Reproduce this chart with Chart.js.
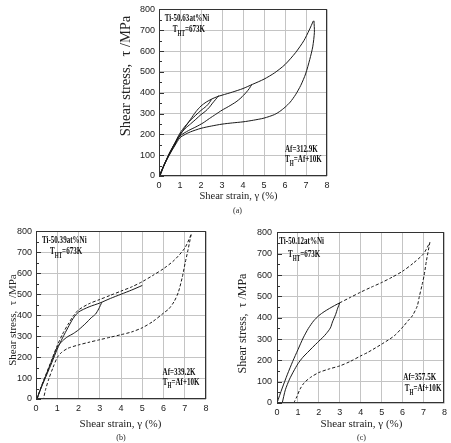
<!DOCTYPE html>
<html>
<head>
<meta charset="UTF-8">
<script src="https://cdn.jsdelivr.net/npm/chart.js"></script>
<style>
  body { margin: 0; background: #fff; }
  #wrap { position: relative; width: 451px; height: 443px; }
  canvas { position: absolute; }
</style>
</head>
<body>
<div id="wrap">
  <canvas id="chartA" width="225" height="220" style="left:110px;top:0px"></canvas>
  <canvas id="chartB" width="225" height="221" style="left:0px;top:222px"></canvas>
  <canvas id="chartC" width="225" height="221" style="left:226px;top:222px"></canvas>
</div>
<script>
// ejes comunes
const strainTicks = [0, 1, 2, 3, 4, 5, 6, 7, 8];
const stressTicks = [0, 100, 200, 300, 400, 500, 600, 700, 800];

// (a) Ti-50.63at%Ni  [deformacion %, esfuerzo MPa]
const aLoading = [[0,0],[0.25,55],[0.5,110],[0.75,155],[1,195],[1.25,235],[1.5,272],[1.75,308],[2,336],[2.25,355],[2.5,369],[2.75,380],[3,388],[3.5,403],[4,420],[4.45,440],[5,465],[5.5,495],[6,535],[6.5,592],[6.9,650],[7.15,700],[7.35,745]];
const aLoop1 = [[2.5,368],[2.4,352],[2.25,335],[2,315],[1.75,292],[1.5,268],[1.25,240],[1,206],[0.75,158],[0.5,110],[0.25,56],[0.03,0]];
const aLoop2 = [[2.85,387],[2.7,368],[2.55,350],[2.4,330],[2.2,310],[2,295],[1.75,272],[1.5,250],[1.25,228],[1,200],[0.75,155],[0.5,108],[0.25,55],[0.03,0]];
const aLoop3 = [[4.42,440],[4.3,420],[4.14,400],[3.9,375],[3.67,356],[3.3,333],[3,316],[2.7,296],[2.4,276],[2.1,255],[1.76,236],[1.4,218],[1,192],[0.75,150],[0.5,105],[0.25,54],[0.03,0]];
const aUnload = [[7.38,745],[7.4,690],[7.32,620],[7.18,560],[6.98,490],[6.75,435],[6.5,390],[6.25,355],[6,330],[5.75,310],[5.5,295],[5,278],[4.5,268],[4,260],[3.5,255],[3,249],[2.5,240],[2,229],[1.5,212],[1.25,200],[1,184],[0.75,145],[0.5,102],[0.25,52],[0.05,0]];

// (b) Ti-50.39at%Ni
const bDashLoad = [[0.05,0],[0.25,60],[0.5,125],[0.75,190],[1,255],[1.25,310],[1.5,355],[1.75,395],[2,425],[2.5,455],[3,475],[3.5,495],[4,515],[4.5,535],[5,560],[5.5,590],[6,622],[6.5,662],[7,720],[7.3,785]];
const bDashUnload = [[7.3,785],[7.15,710],[7.02,650],[6.88,580],[6.7,510],[6.5,465],[6.25,430],[6,410],[5.5,370],[5,340],[4.5,320],[4,307],[3.5,295],[3,283],[2.5,271],[2,258],[1.5,242],[1.2,222],[1,198],[0.8,150],[0.6,95],[0.45,45],[0.35,0]];
const bSolidLoad = [[0.03,0],[0.25,55],[0.5,115],[0.75,175],[1,238],[1.25,292],[1.5,340],[1.75,385],[2,415],[2.5,440],[3,458],[3.5,480],[4,500],[4.5,520],[5,542]];
const bSolidUnload = [[3.1,462],[2.95,430],[2.8,405],[2.6,388],[2.35,362],[2,330],[1.75,312],[1.5,298],[1.25,278],[1,248],[0.75,185],[0.5,122],[0.25,58],[0.05,0]];

// (c) Ti-50.12at%Ni
const cSolidLoad = [[0,0],[0.25,70],[0.5,135],[0.75,195],[1,250],[1.25,305],[1.5,350],[1.75,385],[2,410],[2.25,428],[2.5,443],[2.75,457],[3,470]];
const cSolidUnload = [[3,470],[2.9,445],[2.8,415],[2.65,380],[2.55,352],[2.35,325],[2.18,307],[2,290],[1.7,261],[1.45,236],[1.23,214],[1,184],[0.8,150],[0.6,112],[0.4,62],[0.25,0]];
const cDashLoad = [[3,470],[3.5,495],[4,520],[4.5,543],[5,565],[5.5,590],[6,618],[6.5,655],[7,700],[7.3,753]];
const cDashUnload = [[7.3,753],[7.13,663],[7.03,600],[6.93,554],[6.8,500],[6.7,455],[6.46,408],[6.25,385],[6.06,362],[5.6,315],[5,276],[4.33,237],[4,221],[3.5,195],[3,174],[2.5,160],[2,143],[1.6,120],[1.3,95],[1.1,65],[0.95,30],[0.8,0]];

const SERIF = '"Liberation Serif", "Times New Roman", serif';
const SANS = '"Liberation Sans", Arial, sans-serif';

// texto con subindice: "T_{HT}=673K"
function drawRich(ctx, text, px, py, align, size) {
    const sx = 0.64;
    const partes = [];
    text.split(/(_\{[^}]*\})/).forEach(t => {
        if (!t) return;
        if (t.startsWith("_{")) partes.push({ t: t.slice(2, -1), sub: true });
        else partes.push({ t: t, sub: false });
    });
    const big = `bold ${size}px ${SERIF}`;
    const small = `bold ${Math.round(size * 0.7)}px ${SERIF}`;
    let w = 0;
    partes.forEach(p => { ctx.font = p.sub ? small : big; w += ctx.measureText(p.t).width * sx; });
    let cx = align === "right" ? px - w : px;
    ctx.textBaseline = "middle";
    ctx.textAlign = "left";
    partes.forEach(p => {
        ctx.font = p.sub ? small : big;
        ctx.save();
        ctx.translate(cx, py + (p.sub ? size * 0.4 : 0));
        ctx.scale(sx, 1);
        ctx.fillText(p.t, 0, 0);
        ctx.restore();
        cx += ctx.measureText(p.t).width * sx;
    });
}

const panelPlugin = {
    id: "panelPlugin",
    afterDraw(chart, args, opts) {
        const { ctx, chartArea: ca, scales: { x, y } } = chart;
        ctx.save();
        ctx.strokeStyle = "#333";
        ctx.lineWidth = 1;
        ctx.strokeRect(Math.round(ca.left) + 0.5, Math.round(ca.top) + 0.5,
            Math.round(ca.right - ca.left) - 1, Math.round(ca.bottom - ca.top) - 1);
        // marcas interiores del eje y
        for (let v = 0; v <= 800; v += 50) {
            const py = Math.round(y.getPixelForValue(v)) + 0.5;
            const len = v % 100 === 0 ? 5 : 3;
            ctx.beginPath();
            ctx.moveTo(ca.left, py);
            ctx.lineTo(ca.left + len, py);
            ctx.stroke();
        }
        ctx.fillStyle = "#111";
        opts.labels.forEach(l => {
            drawRich(ctx, l.text, x.getPixelForValue(l.x), y.getPixelForValue(l.y), l.align, opts.size);
        });

        // titulos de ejes
        ctx.fillStyle = "#222";
        ctx.textAlign = "center";
        ctx.textBaseline = "middle";
        ctx.font = `${opts.xTitle.size}px ${SERIF}`;
        ctx.fillText("Shear strain, γ (%)", opts.xTitle.x, opts.xTitle.y);
        ctx.save();
        ctx.translate(opts.yTitle.x, opts.yTitle.y);
        ctx.rotate(-Math.PI / 2);
        ctx.font = `${opts.yTitle.size}px ${SERIF}`;
        ctx.fillText("Shear stress,  τ /MPa", 0, 0);
        ctx.restore();

        ctx.font = `8px ${SERIF}`;
        ctx.fillText(opts.caption.text, opts.caption.x, opts.caption.y);
        ctx.restore();
    }
};

function toPts(arr) {
    return arr.map(p => ({ x: p[0], y: p[1] }));
}

function serie(arr, dashed) {
    return {
        data: toPts(arr),
        showLine: true,
        borderColor: "#1a1a1a",
        borderWidth: 1,
        borderDash: dashed ? [3, 2] : [],
        pointRadius: 0,
        tension: 0.25,
        fill: false
    };
}

function crearPanel(id, cfg) {
    const ctx = document.getElementById(id).getContext("2d");
    return new Chart(ctx, {
        type: "scatter",
        data: { datasets: cfg.series.map(s => serie(s[0], s[1])) },
        options: {
            responsive: false,
            animation: false,
            devicePixelRatio: 1,
            layout: { padding: cfg.padding },
            plugins: {
                legend: { display: false },
                tooltip: { enabled: false },
                panelPlugin: { labels: cfg.labels, caption: cfg.caption, xTitle: cfg.xTitle, yTitle: cfg.yTitle, size: 11 }
            },
            scales: {
                x: {
                    type: "linear",
                    min: 0, max: 8,
                    afterBuildTicks: s => { s.ticks = strainTicks.map(v => ({ value: v })); },
                    afterFit: s => { s.height = cfg.xHeight; },
                    grid: { color: "#c4c4c4", lineWidth: 1, drawTicks: false },
                    border: { display: false },
                    ticks: { padding: 4, color: "#222", font: { family: SANS, size: 9 }, maxRotation: 0 }
                },
                y: {
                    type: "linear",
                    min: 0, max: 800,
                    afterBuildTicks: s => { s.ticks = stressTicks.map(v => ({ value: v })); },
                    afterFit: s => { s.width = cfg.yWidth; },
                    grid: { color: "#c4c4c4", lineWidth: 1, drawTicks: false },
                    border: { display: false },
                    ticks: { padding: cfg.yTickPad, color: "#222", font: { family: SANS, size: 9 } }
                }
            }
        },
        plugins: [panelPlugin]
    });
}

crearPanel("chartA", {
    series: [[aLoading, false], [aLoop1, false], [aLoop2, false], [aLoop3, false], [aUnload, false]],
    padding: { top: 7, right: 8, left: 0, bottom: 0 },
    xHeight: 44, yWidth: 49, yTickPad: 4,
    xTitle: { x: 128.5, y: 196.5, size: 10.5 },
    yTitle: { x: 16.5, y: 76, size: 14.5 },
    caption: { text: "(a)", x: 127.5, y: 211 },
    labels: [
        { text: "Ti-50.63at%Ni", x: 0.27, y: 758, align: "left" },
        { text: "T_{HT}=673K", x: 0.66, y: 705, align: "left" },
        { text: "Af=312.9K", x: 7.56, y: 127, align: "right" },
        { text: "T_{H}=Af+10K", x: 7.75, y: 79, align: "right" }
    ]
});

crearPanel("chartB", {
    series: [[bDashLoad, true], [bDashUnload, true], [bSolidLoad, false], [bSolidUnload, false]],
    padding: { top: 9, right: 19, left: 0, bottom: 0 },
    xHeight: 44, yWidth: 36, yTickPad: 4,
    xTitle: { x: 120.5, y: 202, size: 11 },
    yTitle: { x: 13, y: 98, size: 11 },
    caption: { text: "(b)", x: 121, y: 216 },
    labels: [
        { text: "Ti-50.39at%Ni", x: 0.28, y: 758, align: "left" },
        { text: "T_{HT}=673K", x: 0.66, y: 706, align: "left" },
        { text: "Af=339.2K", x: 7.5, y: 130, align: "right" },
        { text: "T_{H}=Af+10K", x: 7.69, y: 82, align: "right" }
    ]
});

crearPanel("chartC", {
    series: [[cSolidLoad, false], [cSolidUnload, false], [cDashLoad, true], [cDashUnload, true]],
    padding: { top: 9, right: 5, left: 0, bottom: 0 },
    xHeight: 40, yWidth: 51, yTickPad: 5,
    xTitle: { x: 135.5, y: 202, size: 11 },
    yTitle: { x: 17, y: 101.5, size: 12 },
    caption: { text: "(c)", x: 135.5, y: 216 },
    labels: [
        { text: "Ti-50.12at%Ni", x: 0.11, y: 758, align: "left" },
        { text: "T_{HT}=673K", x: 0.53, y: 698, align: "left" },
        { text: "Af=357.5K", x: 7.6, y: 120, align: "right" },
        { text: "T_{H}=Af+10K", x: 7.85, y: 68, align: "right" }
    ]
});
</script>
</body>
</html>
